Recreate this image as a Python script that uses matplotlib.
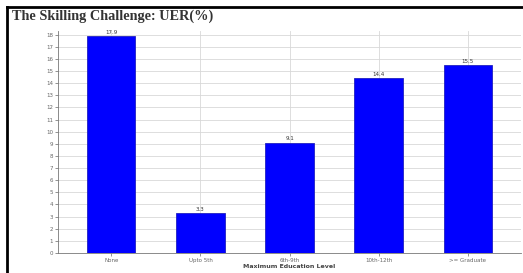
import matplotlib
matplotlib.use('Agg')
import matplotlib.pyplot as plt
from matplotlib.lines import Line2D

# Data
levels = ['None', 'Upto 5th', '6th-9th', '10th-12th', '>= Graduate']
uer = [17.9, 3.3, 9.1, 14.4, 15.5]
yticks = list(range(0, 19))

fig = plt.figure(figsize=(5.23, 2.73), dpi=100)
ax = fig.add_axes([58 / 523, 1 - 253 / 273, (521 - 58) / 523, (253 - 31) / 273])

x = list(range(len(levels)))
ax.bar(x, uer, width=0.54, color='#0000ff', edgecolor='#2020c0', linewidth=0.6, zorder=3)
for xi, v in zip(x, uer):
    ax.text(xi, v + 0.1, f'{v}', ha='center', va='bottom', fontsize=4, color='#333333', zorder=4)

ax.set_xlim(-0.6, 4.6)
ax.set_ylim(0, 18.3)
ax.set_xticks(x)
ax.set_xticklabels(levels, fontsize=4, color='#444444')
ax.set_yticks(yticks)
ax.set_yticklabels([str(t) for t in yticks], fontsize=4, color='#444444')
ax.tick_params(length=2, width=0.5, colors='#666666', pad=1.5)
ax.grid(True, color='#d8d8d8', linewidth=0.6, zorder=0)
for s in ['top', 'right']:
    ax.spines[s].set_visible(False)
for s in ['left', 'bottom']:
    ax.spines[s].set_color('#777777')
    ax.spines[s].set_linewidth(0.6)
ax.set_xlabel('Maximum Education Level', fontsize=4.5, fontweight='bold', color='#444444', labelpad=1)

# title and frame
fig.text(12 / 523, 1 - 16 / 273, 'The Skilling Challenge: UER(%)', fontsize=10.3,
         fontweight='bold', family='Liberation Serif', color='#333333', va='center')
fig.add_artist(Line2D([7 / 523, 1], [1 - 6.5 / 273, 1 - 6.5 / 273], color='black', linewidth=2, transform=fig.transFigure))
fig.add_artist(Line2D([7 / 523, 7 / 523], [0, 1 - 6.5 / 273], color='black', linewidth=2, transform=fig.transFigure))

fig.savefig('out.png', dpi=100)
